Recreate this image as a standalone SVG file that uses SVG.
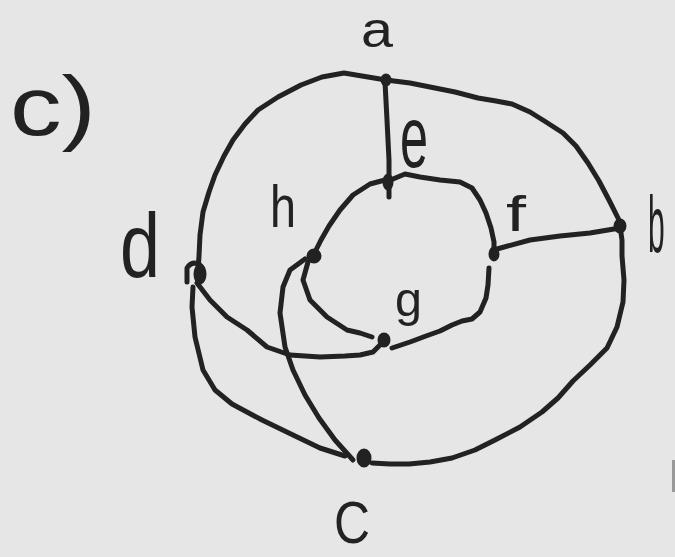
<svg xmlns="http://www.w3.org/2000/svg" width="675" height="557" viewBox="0 0 675 557">
<style>
.e{fill:none;stroke:#222;stroke-width:5;stroke-linecap:round;stroke-linejoin:round}
.n{fill:#222;stroke:#222;stroke-width:3}
.t{font-family:"Liberation Sans","DejaVu Sans",sans-serif;fill:#222;font-weight:normal}
</style>
<rect width="675" height="557" fill="#e6e6e6"/>
<rect x="672" y="460" width="3" height="32" fill="#999"/>
<text class="t" x="10" y="135" font-size="84" textLength="86" lengthAdjust="spacingAndGlyphs">c)</text>
<g id="connectors">
<path id="d-a" class="e" d="M198,272 L199,256 L200,235 L203,212 L209,192 L215,175 L224,156 L233,140 L245,124 L258,110 L278,97 L301,85 L322,77 L344,73 L362,76 L386,80"/>
<path id="a-b" class="e" d="M386,80 L410,83 L430,87 L455,92 L478,98 L496,101 L512,104 L530,112 L546,122 L563,133 L576,146 L588,163 L599,181 L610,202 L620,222"/>
<path id="b-c" class="e" d="M620,226 L622,240 L622,256 L624,280 L623,302 L617,327 L607,348 L590,365 L573,381 L558,398 L542,412 L520,427 L495,440 L475,450 L452,458 L430,462 L409,464 L390,464 L372,463"/>
<path id="a-e" class="e" d="M385,82 L387,120 L389,160 L389,197"/>
<path id="f-b" class="e" d="M497,249 L530,240 L560,236 L590,233 L620,228"/>
<path id="e-h" class="e" d="M385,180 L370,184 L353,195 L340,210 L329,226 L321,240 L315,252"/>
<path id="e-f" class="e" d="M393,179 L405,174 L420,177 L440,180 L460,182 L472,188 L480,200 L486,213 L491,228 L494,242 L494,256"/>
<path id="f-g" class="e" d="M489,268 L488,285 L486,298 L480,312 L472,319 L462,321 L452,325 L440,331 L426,336 L410,342 L392,348"/>
<path id="h-g" class="e" d="M308,262 L303,280 L310,300 L327,317 L347,330 L360,333 L372,337"/>
<path id="d-g" class="e" d="M197,283 L210,300 L227,317 L247,330 L267,347 L290,355 L320,357 L345,356 L360,355 L373,352 L380,345"/>
<path id="d-c" class="e" d="M193,287 L192,307 L195,337 L203,370 L215,390 L232,404 L262,420 L293,435 L320,448 L345,456"/>
<path id="h-c" class="e" d="M305,259 L290,270 L283,287 L280,313 L285,347 L293,370 L305,395 L319,418 L335,440 L353,460"/>
</g>
<g id="node-a"><ellipse class="n" cx="386" cy="80" rx="4" ry="5"/><text class="t" x="361" y="47" font-size="50" textLength="32" lengthAdjust="spacingAndGlyphs">a</text></g>
<g id="node-b"><ellipse class="n" cx="620" cy="226" rx="5" ry="6"/><text class="t" transform="translate(648,252) scale(0.6,1.6)" font-size="50">b</text></g>
<g id="node-c"><ellipse class="n" cx="364" cy="458" rx="6" ry="8"/><text class="t" x="334" y="543" font-size="60" textLength="36" lengthAdjust="spacingAndGlyphs">C</text></g>
<g id="node-d"><path class="e" d="M187,282 L187,268 Q192,260 200,265"/><ellipse class="n" cx="200" cy="274" rx="5" ry="9"/><text class="t" x="120" y="277" font-size="90" textLength="40" lengthAdjust="spacingAndGlyphs">d</text></g>
<g id="node-e"><ellipse class="n" cx="388" cy="182" rx="4" ry="7"/><text class="t" x="400" y="167" font-size="88" textLength="28" lengthAdjust="spacingAndGlyphs">e</text></g>
<g id="node-f"><ellipse class="n" cx="494" cy="254" rx="4" ry="6"/><text class="t" x="506" y="231" font-size="50" textLength="20" lengthAdjust="spacingAndGlyphs">f</text></g>
<g id="node-g"><ellipse class="n" cx="384" cy="340" rx="5" ry="6"/><text class="t" x="395" y="316" font-size="48" textLength="27" lengthAdjust="spacingAndGlyphs">g</text></g>
<g id="node-h"><ellipse class="n" cx="314" cy="256" rx="6" ry="6"/><text class="t" x="270" y="227" font-size="60" textLength="26" lengthAdjust="spacingAndGlyphs">h</text></g>
</svg>
